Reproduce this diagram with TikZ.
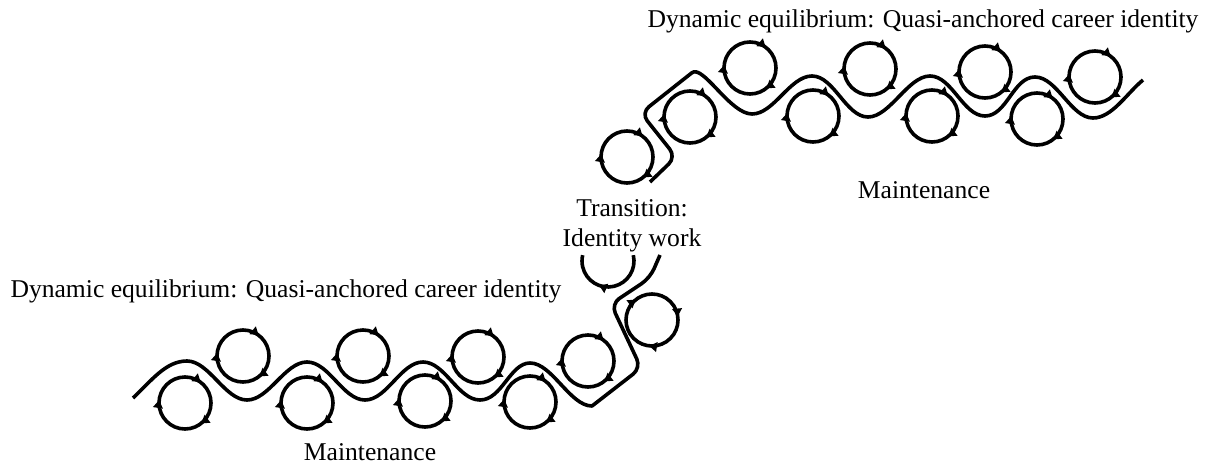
\documentclass[tikz,border=0pt]{standalone}
\usepackage{fontspec}
\setmainfont{Liberation Serif}
\usetikzlibrary{arrows.meta,decorations.markings}
\tikzset{%
	loopcirc/.style = {line width=1.8pt, postaction={decorate}, decoration={markings,
		mark=at position 0.15 with {\arrow{Latex[length=4.5pt,width=5.5pt]}},
		mark=at position 0.525 with {\arrow{Latex[length=4.5pt,width=5.5pt]}},
		mark=at position 0.86 with {\arrow{Latex[length=4.5pt,width=5.5pt]}}}},
	looparc/.style  = {line width=1.8pt, postaction={decorate}, decoration={markings,
		mark=at position 0.61 with {\arrow{Latex[length=4.5pt,width=5.5pt]}}}},
	track/.style    = {line width=1.8pt, line join=round},
	caption/.style  = {font=\fontsize{12.8}{15}\selectfont, inner sep=0pt},
}
\begin{document}
\begin{tikzpicture}[x=0.5pt,y=-0.5pt]
	\useasboundingbox (0,0) rectangle (1208,466);
	% loops, lower level and transition
	\foreach \cx/\cy/\rot in {185/403/0, 243/356/0, 307/403/0, 363/356/0, 425/401/0, 478/357/0, 530/402/0, 588/361/0, 652/320/-45}
		\draw[loopcirc, rotate around={\rot:(\cx,\cy)}] (\cx,\cy) circle[radius=26];
	\draw[looparc] (608,261) ++(-13:26) arc[start angle=-13, end angle=193, radius=26];
	% loops, upper level
	\foreach \cx/\cy in {627/157, 690/117, 750/68, 813/116, 870/69, 932/116, 985/72, 1037/119, 1095/77}
		\draw[loopcirc] (\cx,\cy) circle[radius=26];
	% lower track
	\draw[track] (133,398) .. controls (152,380) and (166,361) .. (187,361)
		.. controls (209,361) and (225,400) .. (247,400)
		.. controls (269,400) and (285,362) .. (307,362)
		.. controls (329,362) and (343,400) .. (365,400)
		.. controls (387,400) and (401,362) .. (423,362)
		.. controls (445,362) and (458,400) .. (480,400)
		.. controls (502,400) and (510,363) .. (530,363)
		.. controls (552,363) and (570,406) .. (592,406)
		[rounded corners=5pt] -- (641,368) -- (611,304) -- (650,278) -- (660,255);
	% upper track
	\draw[track] (650,182) [rounded corners=5pt] -- (676,157) -- (641,113) -- (684,79) [sharp corners]
		.. controls (703,64) and (730,114) .. (752,114)
		.. controls (774,114) and (790,76) .. (812,76)
		.. controls (834,76) and (846,117) .. (868,117)
		.. controls (890,117) and (908,76) .. (930,76)
		.. controls (952,76) and (963,116) .. (985,116)
		.. controls (1007,116) and (1013,77) .. (1035,77)
		.. controls (1057,77) and (1071,118) .. (1093,118)
		.. controls (1112,118) and (1127,93) .. (1143,80);
	% texts
	\node[caption] (topeq) at (923,21) {Dynamic equilibrium: Quasi-anchored career identity};
	\node[caption] (topmaint) at (924,190) {Maintenance};
	\node[caption, align=center] (trans) at (632,226) {Transition:\\Identity work};
	\node[caption] (loweq) at (286,291) {Dynamic equilibrium: Quasi-anchored career identity};
	\node[caption] (lowmaint) at (370,452) {Maintenance};
\end{tikzpicture}
\end{document}
